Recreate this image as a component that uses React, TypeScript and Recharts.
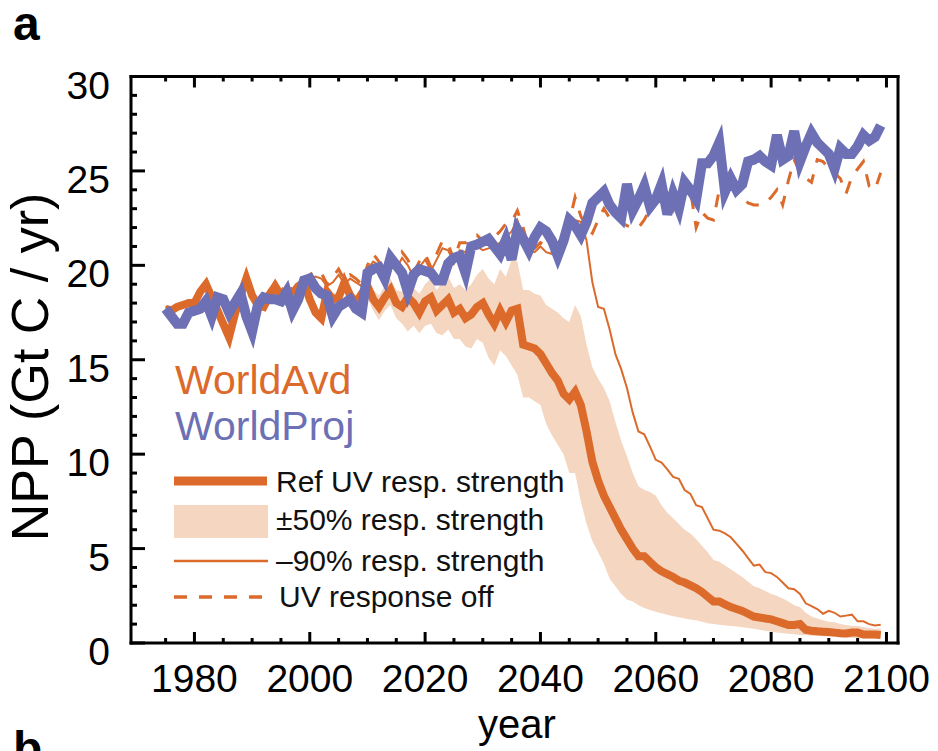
import React from 'react';
import { ComposedChart, Line, Area, XAxis, YAxis, Legend } from 'recharts';

const ORANGE = '#DB6A2B';
const BLUE = '#6D70B4';
const BAND = '#F5D6C1';
const FONT = '"Liberation Sans", Arial, Helvetica, sans-serif';

// years 1975..2099, one value per year
const years = Array.from({ length: 125 }, (_, i) => 1975 + i);

// WorldAvd, reference UV response strength
const refUV = [
  17.7, 17.6, 17.8, 17.9, 18.0, 18.0, 18.6, 19.0, 18.3, 17.6,
  16.9, 16.2, 17.4, 18.4, 19.3, 18.4, 17.9, 17.8, 18.4, 18.9,
  18.4, 18.1, 18.5, 18.9, 19.1, 18.2, 17.5, 17.2, 18.6, 18.2,
  18.3, 19.1, 18.4, 18.0, 18.5, 18.9, 18.2, 17.8, 18.3, 18.7,
  18.0, 17.8, 18.3, 18.0, 17.5, 18.1, 18.3, 17.6, 17.9, 18.2,
  17.5, 17.7, 17.2, 17.4, 17.8, 18.0, 17.4, 16.9, 17.6, 17.0,
  17.6, 17.7, 15.8, 15.7, 15.6, 15.3, 14.8, 14.3, 13.9, 13.2,
  12.9, 13.3, 12.6, 11.2, 9.6, 8.6, 7.8, 7.2, 6.6, 6.0,
  5.5, 5.0, 4.6, 4.6, 4.3, 4.0, 3.8, 3.65, 3.5, 3.3,
  3.2, 3.05, 2.9, 2.7, 2.45, 2.2, 2.2, 2.05, 1.9, 1.8,
  1.7, 1.55, 1.4, 1.35, 1.3, 1.25, 1.15, 1.05, 0.95, 0.95,
  1.0, 0.7, 0.65, 0.62, 0.6, 0.58, 0.55, 0.52, 0.5, 0.55,
  0.55, 0.45, 0.45, 0.45, 0.42,
];

// WorldProj
const worldProj = [
  17.7, 17.3, 16.9, 16.9, 17.5, 17.6, 17.7, 18.1, 17.3, 18.3,
  18.2, 17.5, 18.0, 18.5, 17.3, 16.5, 17.9, 18.3, 18.2, 18.2,
  18.1, 18.6, 17.6, 18.2, 19.2, 19.3, 18.8, 18.5, 18.4, 17.3,
  17.8, 18.0, 18.2, 17.7, 17.5, 19.6, 19.8, 19.9, 19.3, 20.4,
  20.0, 19.6, 18.6, 19.5, 19.8, 19.7, 19.6, 19.2, 19.2, 20.1,
  20.4, 20.5, 19.6, 21.0, 21.1, 21.25, 21.4, 21.0, 20.6, 21.35,
  20.3, 21.9, 21.4, 20.8, 21.5, 22.0, 21.8, 21.3, 20.5, 21.3,
  22.4, 22.1, 21.6, 22.3, 23.3, 23.6, 23.9, 23.2, 22.8, 22.5,
  24.3, 22.9, 23.5, 24.2, 23.1, 23.5, 24.3, 22.7, 23.8, 23.0,
  24.4, 24.0, 23.5, 25.4, 25.4, 25.8, 26.5, 23.9, 24.6, 24.0,
  24.3, 25.5, 25.6, 25.8, 25.5, 25.3, 26.9, 25.6, 25.8, 27.1,
  25.5, 26.3, 27.0, 26.5, 26.2, 25.9, 25.1, 26.2, 25.9, 25.9,
  26.3, 26.9, 26.6, 26.8, 27.4,
];

// WorldAvd, UV response off
const uvOff = [
  17.8, 17.7, 17.9, 18.0, 18.1, 18.1, 18.7, 19.1, 18.4, 17.7,
  17.0, 16.4, 17.5, 18.5, 19.3, 18.5, 18.1, 18.2, 18.7, 19.0,
  18.8, 18.6, 18.8, 19.1, 19.3, 19.5, 19.7, 19.6, 19.0, 19.4,
  19.8, 19.2, 19.5, 19.3, 19.0, 20.0, 20.6, 20.2, 19.8, 20.3,
  20.0, 20.7, 20.3, 19.6, 20.2, 20.6, 19.9, 20.6, 21.3, 21.1,
  20.3, 21.2, 21.2, 21.4, 21.6, 21.3, 21.5, 21.5, 21.8, 22.2,
  22.3, 22.9, 22.0, 20.9, 20.9, 21.2, 21.0, 20.7, 21.4, 21.8,
  22.3, 23.6, 22.6, 22.0, 21.7, 22.4, 23.0, 22.5, 22.6, 22.3,
  22.1, 22.0, 22.0, 22.4, 23.0, 23.4, 23.8, 23.4, 22.9, 23.6,
  24.2, 24.0, 22.0, 22.8, 22.5, 22.4, 24.0, 24.6, 25.0, 24.4,
  23.6, 23.3, 23.2, 23.2, 23.3, 23.6, 24.0, 23.2, 24.5, 25.6,
  24.9, 24.6, 24.4, 25.6, 25.5, 25.1, 24.9, 24.6, 23.8, 24.7,
  25.1, 25.5, 24.2, 24.0, 24.9,
];

// WorldAvd, -90% response strength
const minus90 = [
  17.8, 17.7, 17.9, 18.0, 18.1, 18.1, 18.7, 19.1, 18.4, 17.7,
  17.0, 16.4, 17.5, 18.5, 19.3, 18.5, 18.1, 18.1, 18.6, 18.9,
  18.7, 18.5, 18.7, 19.0, 19.2, 19.3, 19.4, 19.3, 18.9, 19.1,
  19.5, 19.0, 19.3, 19.1, 18.9, 19.8, 20.2, 20.0, 19.6, 20.0,
  19.8, 20.4, 20.0, 19.4, 19.9, 20.3, 19.7, 20.3, 20.9, 20.8,
  20.1, 20.8, 20.7, 20.9, 21.0, 20.8, 20.9, 21.0, 21.2, 21.5,
  21.8, 22.4, 21.5, 20.8, 20.7, 21.0, 20.7, 20.6, 21.2, 21.6,
  22.2, 22.4, 22.3, 21.3, 19.1, 17.8, 17.7, 16.6, 15.3, 14.5,
  13.5, 12.2, 11.2, 11.05, 10.4, 9.7, 9.55, 9.2, 8.8, 8.7,
  8.1, 7.9, 7.3, 7.2, 6.6, 6.0, 5.95, 5.8, 5.6, 5.25,
  4.9, 4.5, 4.1, 4.15, 3.75, 3.7, 3.5, 3.2, 2.9, 2.85,
  2.6, 2.1, 1.95, 1.8, 1.55, 1.7, 1.6, 1.4, 1.45, 1.5,
  1.15, 1.15, 1.0, 0.93, 0.97,
];

// +-50% response strength envelope, 2000..2099
const bandStart = 2000;
const bandHi = [
  18.5, 17.8, 17.6, 18.9, 18.5,
  18.6, 19.4, 18.8, 18.4, 18.9, 19.3, 18.7, 18.4, 18.9, 19.3,
  18.7, 18.6, 19.1, 18.8, 18.5, 19.0, 19.3, 18.7, 19.1, 19.4,
  18.8, 19.0, 18.7, 19.0, 19.5, 19.8, 19.3, 19.0, 19.8, 19.4,
  20.3, 20.2, 18.7, 18.7, 18.5, 18.4, 17.9, 17.7, 17.5, 17.2,
  17.0, 17.9, 17.3, 15.8, 14.6, 14.0, 13.5, 12.8, 11.7, 10.7,
  9.9, 9.0, 8.3, 8.1, 8.0, 7.8, 7.3, 6.9, 6.6, 6.3,
  6.0, 5.8, 5.5, 5.15, 4.8, 4.4, 4.3, 4.1, 3.9, 3.7,
  3.5, 3.25, 3.0, 2.9, 2.75, 2.6, 2.5, 2.35, 2.2, 2.0,
  1.9, 1.6, 1.4, 1.3, 1.2, 1.13, 1.1, 1.0, 0.95, 0.92,
  0.9, 0.85, 0.8, 0.76, 0.75,
];
const bandLo = [
  17.9, 17.2, 16.9, 18.3, 17.9,
  17.9, 18.6, 17.9, 17.5, 18.0, 18.3, 17.6, 17.1, 17.6, 17.9,
  17.2, 16.9, 16.5, 16.8, 16.4, 16.8, 16.9, 16.4, 16.3, 16.6,
  16.1, 16.1, 15.7, 15.6, 16.1, 15.9, 15.1, 14.7, 15.5, 15.2,
  14.7, 14.2, 13.0, 13.0, 12.8, 12.6, 11.6, 11.0, 10.5, 10.0,
  9.0, 9.0, 7.5, 6.3, 5.4, 4.8, 4.2, 3.4, 3.0, 2.6,
  2.3, 2.2, 2.0, 1.85, 1.75, 1.65, 1.58, 1.5, 1.42, 1.36,
  1.3, 1.25, 1.2, 1.12, 1.05, 1.0, 0.96, 0.93, 0.9, 0.87,
  0.84, 0.8, 0.76, 0.7, 0.65, 0.6, 0.56, 0.52, 0.49, 0.46,
  0.43, 0.41, 0.39, 0.37, 0.36, 0.34, 0.32, 0.3, 0.29, 0.27,
  0.26, 0.25, 0.24, 0.23, 0.22,
];

const xTicks = [1975, 1980, 1985, 1990, 1995, 2000, 2005, 2010, 2015, 2020, 2025, 2030, 2035, 2040,
  2045, 2050, 2055, 2060, 2065, 2070, 2075, 2080, 2085, 2090, 2095, 2100];
const yTicks = Array.from({ length: 31 }, (_, i) => i);

const data = years.map((year, i) => {
  const b = year - bandStart;
  return {
    year,
    ref: refUV[i],
    proj: worldProj[i],
    off: uvOff[i],
    m90: minus90[i],
    band: b >= 0 ? [bandLo[b], bandHi[b]] : null,
  };
});

const axisLine = { stroke: '#000', strokeWidth: 3, strokeLinecap: 'square' as const };

const BottomTick = ({ x, y, payload }: any) => {
  const major = payload.value % 20 === 0;
  return (
    <g>
      <line x1={x} x2={x} y1={y} y2={y - (major ? 11 : 5)} stroke="#000" strokeWidth={3} />
      {major && (
        <text x={x} y={y + 49} textAnchor="middle" fontSize={39} fontFamily={FONT} fill="#000">
          {payload.value}
        </text>
      )}
    </g>
  );
};

const TopTick = ({ x, y, payload }: any) => {
  const major = payload.value % 20 === 0;
  return <line x1={x} x2={x} y1={y} y2={y + (major ? 11 : 5)} stroke="#000" strokeWidth={3} />;
};

const LeftTick = ({ x, y, payload }: any) => {
  const major = payload.value % 5 === 0;
  return (
    <g>
      <line x1={x} x2={x + (major ? 14 : 6)} y1={y} y2={y} stroke="#000" strokeWidth={3} />
      {major && (
        <text x={x - 21} y={y + 22} textAnchor="end" fontSize={39} fontFamily={FONT} fill="#000">
          {payload.value}
        </text>
      )}
    </g>
  );
};

const RightTick = ({ x, y, payload }: any) => {
  const major = payload.value % 5 === 0;
  return <line x1={x} x2={x - (major ? 14 : 6)} y1={y} y2={y} stroke="#000" strokeWidth={3} />;
};

const LegendBox = () => (
  <svg width={440} height={270} style={{ display: 'block', fontFamily: FONT }}>
    <text x={5} y={39} fontSize={41} fill={ORANGE}>WorldAvd</text>
    <text x={5} y={85} fontSize={41} fill={BLUE}>WorldProj</text>
    <line x1={4} x2={97} y1={126} y2={126} stroke={ORANGE} strokeWidth={9} />
    <text x={106} y={137} fontSize={30} fill="#111">Ref UV resp. strength</text>
    <rect x={4} y={150} width={94} height={33} fill={BAND} />
    <text x={106} y={175} fontSize={30} fill="#111">±50% resp. strength</text>
    <line x1={4} x2={98} y1={206} y2={206} stroke={ORANGE} strokeWidth={2.5} />
    <text x={106} y={216} fontSize={30} fill="#111">–90% resp. strength</text>
    <line x1={4} x2={96} y1={242} y2={242} stroke={ORANGE} strokeWidth={3.5} strokeDasharray="13 12" />
    <text x={109} y={252} fontSize={30} fill="#111">UV response off</text>
  </svg>
);

export default function App() {
  return (
    <div style={{ position: 'absolute', left: 0, top: 0, width: 938, height: 751, overflow: 'hidden', background: '#fff' }}>
      <ComposedChart
        width={938}
        height={751}
        data={data}
        margin={{ top: 75.5, right: 39, bottom: 107, left: 130 }}
      >
        <XAxis
          xAxisId="b"
          dataKey="year"
          type="number"
          domain={[1969, 2102]}
          ticks={xTicks}
          interval={0}
          height={1}
          tickSize={0}
          tickMargin={0}
          tickLine={false}
          axisLine={axisLine}
          tick={<BottomTick />}
        />
        <XAxis
          xAxisId="t"
          orientation="top"
          dataKey="year"
          type="number"
          domain={[1969, 2102]}
          ticks={xTicks}
          interval={0}
          height={1}
          tickSize={0}
          tickMargin={0}
          tickLine={false}
          axisLine={axisLine}
          tick={<TopTick />}
        />
        <YAxis
          yAxisId="l"
          type="number"
          domain={[0, 30]}
          ticks={yTicks}
          interval={0}
          width={1}
          tickSize={0}
          tickMargin={0}
          tickLine={false}
          axisLine={axisLine}
          tick={<LeftTick />}
        />
        <YAxis
          yAxisId="r"
          orientation="right"
          type="number"
          domain={[0, 30]}
          ticks={yTicks}
          interval={0}
          width={1}
          tickSize={0}
          tickMargin={0}
          tickLine={false}
          axisLine={axisLine}
          tick={<RightTick />}
        />
        <Area xAxisId="b" yAxisId="l" dataKey="band" name="±50% resp. strength" stroke="none" fill={BAND} fillOpacity={1} isAnimationActive={false} />
        <Line xAxisId="b" yAxisId="l" dataKey="ref" name="Ref UV resp. strength" stroke={ORANGE} strokeWidth={8} dot={false} isAnimationActive={false} />
        <Line xAxisId="b" yAxisId="l" dataKey="m90" name="–90% resp. strength" stroke={ORANGE} strokeWidth={2} dot={false} isAnimationActive={false} />
        <Line xAxisId="b" yAxisId="l" dataKey="off" name="UV response off" stroke={ORANGE} strokeWidth={3} strokeDasharray="13 12" dot={false} isAnimationActive={false} />
        <Line xAxisId="b" yAxisId="l" dataKey="proj" name="WorldProj" stroke={BLUE} strokeWidth={10} dot={false} isAnimationActive={false} />
        <Legend
          layout="vertical"
          align="center"
          verticalAlign="middle"
          width={440}
          height={270}
          wrapperStyle={{ left: 170, top: 355, width: 440, height: 270 }}
          content={() => <LegendBox />}
        />
      </ComposedChart>
      <svg
        width={938}
        height={751}
        style={{ position: 'absolute', left: 0, top: 0, pointerEvents: 'none', fontFamily: FONT }}
      >
        <text x={13} y={40} fontSize={48} fontWeight="bold" fill="#000">a</text>
        <text x={13} y={765} fontSize={48} fontWeight="bold" fill="#000">b</text>
        <text x={48} y={367} fontSize={52} textAnchor="middle" transform="rotate(-90 48 367)" fill="#000">
          NPP (Gt C / yr)
        </text>
        <text x={517} y={738} fontSize={40} textAnchor="middle" fill="#000">year</text>
      </svg>
    </div>
  );
}
